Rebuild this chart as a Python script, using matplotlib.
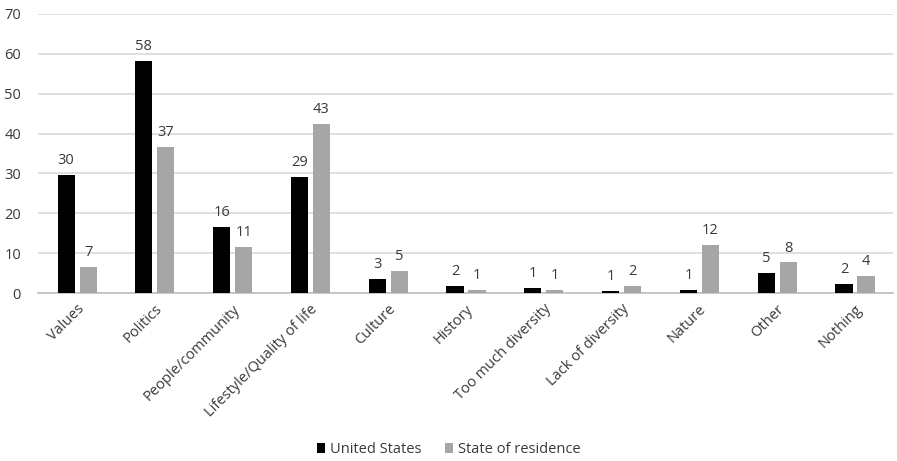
import matplotlib.pyplot as plt
import numpy as np

plt.rcParams['font.family'] = ['Open Sans', 'DejaVu Sans']

categories = ['Values', 'Politics', 'People/community', 'Lifestyle/Quality of life',
              'Culture', 'History', 'Too much diversity', 'Lack of diversity',
              'Nature', 'Other', 'Nothing']
us = [29.6, 58.2, 16.6, 29.1, 3.6, 1.7, 1.4, 0.65, 0.8, 5.1, 2.3]
state = [6.5, 36.7, 11.6, 42.4, 5.5, 0.8, 0.8, 1.7, 12.1, 7.7, 4.4]
us_labels = ['30', '58', '16', '29', '3', '2', '1', '1', '1', '5', '2']
state_labels = ['7', '37', '11', '43', '5', '1', '1', '2', '12', '8', '4']

text_col = '#3a3a3a'
x = np.arange(len(categories))
w = 0.22

fig = plt.figure(figsize=(8.97, 4.61), dpi=100)
ax = fig.add_axes([0.042, 0.364, 0.954, 0.606])

b1 = ax.bar(x - 0.135, us, w, color='black', label='United States', zorder=3)
b2 = ax.bar(x + 0.148, state, w, color='#a6a6a6', label='State of residence', zorder=3)

for bars, labs in [(b1, us_labels), (b2, state_labels)]:
    for b, lab in zip(bars, labs):
        ax.annotate(lab, (b.get_x() + b.get_width() / 2, b.get_height()),
                    xytext=(0, 5), textcoords='offset points',
                    ha='center', va='bottom', fontsize=10.5, color=text_col)

ax.set_xlim(-0.5, len(categories) - 0.5)
ax.set_ylim(0, 70)
ax.set_yticks(range(0, 71, 10))
ax.yaxis.grid(True, color='#d9d9d9', linewidth=1.2, zorder=0)
ax.set_axisbelow(True)
for s in ['top', 'right', 'left']:
    ax.spines[s].set_visible(False)
ax.spines['bottom'].set_color('#bfbfbf')
ax.spines['bottom'].set_linewidth(1.2)
ax.tick_params(axis='both', length=0, labelsize=10.5, colors=text_col)
ax.tick_params(axis='y', pad=12)
ax.tick_params(axis='x', pad=6)
ax.set_xticks(x)
ax.set_xticklabels(categories, rotation=45, ha='right', rotation_mode='anchor')

fig.legend(loc='lower center', ncol=2, frameon=False, fontsize=10.5,
           bbox_to_anchor=(0.5, -0.02), handlelength=0.6, handleheight=0.6,
           columnspacing=1.6, handletextpad=0.3, labelcolor=text_col)

fig.savefig('out.png', dpi=100)
